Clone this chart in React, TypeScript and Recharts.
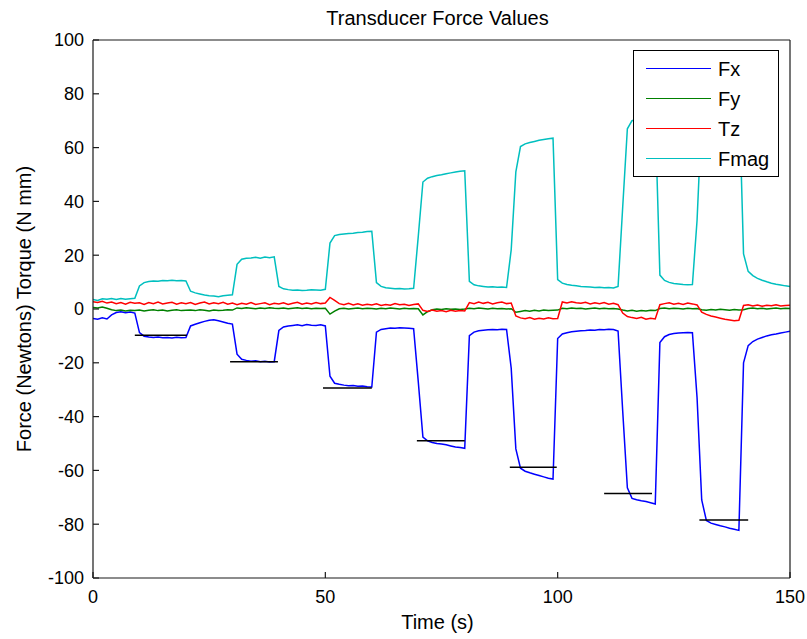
import React from 'react';
import { LineChart, Line, XAxis, YAxis, ReferenceLine, Legend, Label } from 'recharts';

const time = [
  0, 1, 2, 3, 4, 5, 6, 7, 8, 9,
  10, 11, 12, 13, 14, 15, 16, 17, 18, 19,
  20, 21, 22, 23, 24, 25, 26, 27, 28, 29,
  30, 31, 32, 33, 34, 35, 36, 37, 38, 39,
  40, 41, 42, 43, 44, 45, 46, 47, 48, 49,
  50, 51, 52, 53, 54, 55, 56, 57, 58, 59,
  60, 61, 62, 63, 64, 65, 66, 67, 68, 69,
  70, 71, 72, 73, 74, 75, 76, 77, 78, 79,
  80, 81, 82, 83, 84, 85, 86, 87, 88, 89,
  90, 91, 92, 93, 94, 95, 96, 97, 98, 99,
  100, 101, 102, 103, 104, 105, 106, 107, 108, 109,
  110, 111, 112, 113, 114, 115, 116, 117, 118, 119,
  120, 121, 122, 123, 124, 125, 126, 127, 128, 129,
  130, 131, 132, 133, 134, 135, 136, 137, 138, 139,
  140, 141, 142, 143, 144, 145, 146, 147, 148, 149,
  150,
];

const fx = [
  -3.5, -3.8, -3.3, -3.7, -2.2, -1.3, -1.0, -1.4, -1.1, -1.5,
  -8.8, -10.1, -10.4, -10.6, -10.4, -10.7, -10.6, -10.8, -10.5, -10.7,
  -10.6, -6.3, -5.7, -5.1, -4.6, -4.2, -4.0, -4.4, -4.8, -5.3,
  -5.6, -16.8, -18.7, -19.1, -19.4, -19.2, -19.6, -19.4, -19.7, -19.6,
  -8.0, -6.7, -6.3, -6.1, -5.9, -6.2, -5.8, -6.0, -6.1, -5.9,
  -6.3, -25.0, -27.6, -28.0, -28.3, -28.5, -28.4, -28.7, -28.6, -28.9,
  -29.0, -8.6, -7.6, -7.3, -7.1, -7.2, -7.0, -7.1, -7.2, -7.3,
  -27.0, -47.6, -49.0, -49.6, -50.0, -50.2, -50.5, -50.9, -51.3, -51.5,
  -51.8, -9.9, -8.6, -8.1, -7.9, -7.7, -7.6, -7.7, -7.5, -7.6,
  -22.0, -52.0, -59.2, -60.3, -60.9, -61.4, -61.9, -62.4, -62.9, -63.2,
  -11.0, -9.3, -8.8, -8.5, -8.3, -8.1, -8.0, -7.8, -7.9, -7.6,
  -7.7, -7.5, -7.6, -8.2, -38.0, -66.5, -70.4, -70.9, -71.3, -71.6,
  -72.0, -72.5, -12.5, -10.3, -9.5, -9.1, -8.9, -8.8, -8.7, -8.8,
  -33.0, -71.0, -78.6, -79.6, -80.1, -80.6, -81.0, -81.5, -81.9, -82.3,
  -20.0, -13.6, -12.1, -11.2, -10.6, -10.0, -9.6, -9.3, -8.9, -8.6,
  -8.3,
];

const fy = [
  0.6, 0.4, 0.7, 0.3, -0.3, -0.6, -0.4, -0.7, -0.5, -0.6,
  -0.4, -0.7, -0.5, -0.3, -0.6, -0.4, -0.7, -0.5, -0.3, -0.6,
  -0.5, -0.4, -0.6, -0.3, -0.5, -0.7, -0.4, -0.6, -0.5, -0.3,
  -0.4, 0.4, 0.2, 0.5, 0.3, 0.1, 0.4, 0.2, 0.5, 0.3,
  0.2, 0.4, 0.1, 0.3, 0.5, 0.2, 0.4, 0.1, 0.3, 0.2,
  0.3, -1.9, -0.8, 0.1, 0.3, 0.0, 0.2, 0.4, 0.1, 0.3,
  0.2, 0.0, 0.3, 0.1, 0.4, 0.2, 0.0, 0.3, 0.1, 0.2,
  0.1, -2.2, -1.0, -0.3, 0.0, -0.2, 0.1, -0.1, 0.0, -0.2,
  0.0, 0.3, 0.1, 0.4, 0.2, 0.0, 0.3, 0.1, 0.2, 0.0,
  0.1, -1.2, -0.9, -0.6, -0.8, -0.5, -0.7, -0.4, -0.6, -0.5,
  -0.4, 0.3, 0.1, 0.4, 0.2, 0.3, 0.0, 0.2, 0.4, 0.1,
  0.3, 0.1, 0.2, 0.0, -0.4, -0.7, -0.5, -0.8, -0.6, -0.7,
  -0.5, -0.6, 0.2, 0.4, 0.1, 0.3, 0.2, 0.0, 0.3, 0.1,
  0.2, -0.3, -0.5, -0.2, -0.4, -0.1, -0.3, -0.5, -0.2, -0.4,
  -0.3, 0.2, 0.4, 0.1, 0.3, 0.0, 0.2, 0.4, 0.1, 0.3,
  0.2,
];

const tz = [
  2.7, 2.4, 2.9, 2.2, 2.6, 2.0, 2.4, 1.8, 2.5, 2.1,
  2.3, 1.7, 2.4, 2.0, 2.6, 1.9, 2.2, 2.5, 1.8, 2.3,
  2.0, 2.4, 1.7, 2.2, 2.6, 1.9, 2.3, 2.0, 2.5, 1.8,
  2.2, 1.6, 2.1, 1.8, 2.4, 1.7, 2.0, 2.3, 1.6, 2.1,
  1.9, 2.3, 1.7, 2.1, 2.5, 1.8, 2.2, 1.9, 2.4, 2.0,
  2.2, 4.3, 3.2, 2.0, 1.6, 2.1, 1.5, 1.9, 1.4, 1.8,
  1.5, 1.9, 1.3, 1.7, 1.4, 2.0, 1.6, 1.8, 1.3, 1.7,
  1.9, -0.5, -0.9, -0.4, -0.8, -0.6, -1.0, -0.5, -0.8, -0.6,
  -0.7, 2.4, 2.0, 2.6, 2.1, 2.5, 1.9, 2.3, 2.6, 2.0,
  2.2, -2.6, -3.3, -3.6, -3.2, -3.8, -3.4, -3.7, -3.3, -3.6,
  -3.5, 2.6, 2.2, 2.7, 2.3, 2.1, 2.5, 1.9, 2.3, 2.0,
  2.4, 1.8, 2.1, 1.6, -1.5, -2.8, -3.2, -3.5, -3.1, -3.8,
  -3.4, -3.7, 1.6, 2.0, 2.3, 1.8, 2.1, 1.7, 2.2, 1.9,
  1.5, -1.2, -2.0, -2.6, -3.0, -3.4, -3.8, -4.1, -4.4, -4.2,
  1.3, 1.6, 1.1, 1.5, 1.0, 1.4, 1.2, 1.6, 1.1, 1.3,
  1.4,
];

const fmag = [
  3.5, 3.2, 3.8, 3.6, 3.9, 3.5, 3.9, 3.6, 3.8, 4.0,
  8.6, 9.8, 10.2, 10.4, 10.3, 10.6, 10.5, 10.7, 10.5, 10.6,
  10.4, 6.6, 6.0, 5.6, 5.2, 4.9, 4.8, 4.6, 4.9, 5.1,
  5.3, 16.6, 18.5, 18.9, 19.0, 19.2, 18.9, 19.3, 19.1, 19.4,
  8.4, 7.5, 7.2, 7.0, 7.1, 6.9, 7.0, 7.2, 7.1, 7.0,
  7.3, 24.5, 27.3, 27.7, 27.9, 28.1, 28.2, 28.4, 28.5, 28.8,
  28.9, 9.8, 8.4, 7.9, 7.7, 7.5, 7.6, 7.4, 7.5, 7.7,
  27.0, 47.2, 48.6, 49.2, 49.6, 49.9, 50.3, 50.6, 50.9, 51.2,
  51.4, 10.3, 9.0, 8.6, 8.4, 8.2, 8.3, 8.1, 8.2, 8.0,
  22.0, 51.0, 60.4, 61.4, 61.9, 62.3, 62.7, 63.0, 63.3, 63.5,
  10.9, 9.6, 9.1, 8.8, 8.6, 8.4, 8.3, 8.2, 8.0, 8.1,
  7.9, 8.0, 7.8, 8.4, 38.0, 67.0, 70.0, 70.5, 70.9, 71.2,
  71.5, 72.0, 12.6, 10.6, 9.9, 9.5, 9.3, 9.1, 9.0, 9.1,
  33.0, 72.0, 79.2, 80.2, 80.8, 81.3, 81.7, 82.1, 82.4, 82.7,
  20.5, 14.0, 12.4, 11.4, 10.7, 10.1, 9.6, 9.2, 8.9, 8.6,
  8.4,
];

// Expected-load reference segments (black)
const refLevels = [-9.8, -19.6, -29.4, -49.0, -58.8, -68.6, -78.4];
const refStarts = [9.0, 29.5, 49.5, 69.7, 89.7, 110.0, 130.5];
const refEnds = [20.2, 39.8, 60.0, 80.0, 99.8, 120.3, 141.0];

const seriesNames = ['Fx', 'Fy', 'Tz', 'Fmag'];
const seriesColors = ['#0000FF', '#008000', '#FF0000', '#00BFBF'];

const xTicks = [0, 50, 100, 150];
const yTicks = [-100, -80, -60, -40, -20, 0, 20, 40, 60, 80, 100];

const data = time.map((t, i) => ({ t, Fx: fx[i], Fy: fy[i], Tz: tz[i], Fmag: fmag[i] }));

const FONT = '"Liberation Sans", Arial, Helvetica, sans-serif';
const AXIS_COLOR = '#1a1a1a';

const LegendBox = () => (
  <div
    style={{
      position: 'relative',
      width: 146,
      height: 127,
      boxSizing: 'border-box',
      border: '1px solid #000',
      background: '#fff',
      fontFamily: FONT,
    }}
  >
    {seriesNames.map((name, i) => (
      <div
        key={name}
        style={{
          position: 'absolute',
          left: 0,
          top: 18.3 + 30 * i - 12,
          height: 24,
          width: '100%',
        }}
      >
        <div
          style={{
            position: 'absolute',
            left: 12,
            top: 11,
            width: 65,
            height: 0,
            borderTop: `1.5px solid ${seriesColors[i]}`,
          }}
        />
        <div
          style={{
            position: 'absolute',
            left: 84,
            top: 0,
            height: 24,
            lineHeight: '24px',
            fontSize: 20,
            color: '#000',
            whiteSpace: 'nowrap',
          }}
        >
          {name}
        </div>
      </div>
    ))}
  </div>
);

const tickStyle = { fontSize: 18, fill: '#000', fontFamily: FONT };

export default function App() {
  return (
    <div style={{ position: 'absolute', left: 0, top: 0, width: 807, height: 639, background: '#fff' }}>
      <LineChart
        width={807}
        height={639}
        data={data}
        margin={{ top: 39, right: 16, bottom: 60, left: 92 }}
      >
        <XAxis
          dataKey="t"
          type="number"
          domain={[0, 150]}
          ticks={xTicks}
          interval={0}
          height={1}
          tickSize={-6}
          tickMargin={18}
          tick={tickStyle}
          axisLine={{ stroke: AXIS_COLOR, strokeWidth: 1.2 }}
          tickLine={{ stroke: AXIS_COLOR, strokeWidth: 1.2 }}
          allowDataOverflow
        >
          <Label
            content={() => (
              <text x={437.5} y={629} textAnchor="middle" fontSize={20} fontFamily={FONT} fill="#000">
                Time (s)
              </text>
            )}
          />
        </XAxis>
        <XAxis
          xAxisId="top"
          orientation="top"
          dataKey="t"
          type="number"
          domain={[0, 150]}
          ticks={xTicks}
          interval={0}
          height={1}
          tickSize={-6}
          tick={false}
          axisLine={{ stroke: AXIS_COLOR, strokeWidth: 1.2 }}
          tickLine={{ stroke: AXIS_COLOR, strokeWidth: 1.2 }}
          allowDataOverflow
        >
          <Label
            content={() => (
              <text x={437.5} y={25} textAnchor="middle" fontSize={20} fontFamily={FONT} fill="#000">
                Transducer Force Values
              </text>
            )}
          />
        </XAxis>
        <YAxis
          type="number"
          domain={[-100, 100]}
          ticks={yTicks}
          interval={0}
          width={1}
          tickSize={-6}
          tickMargin={15}
          tick={tickStyle}
          axisLine={{ stroke: AXIS_COLOR, strokeWidth: 1.2 }}
          tickLine={{ stroke: AXIS_COLOR, strokeWidth: 1.2 }}
          allowDataOverflow
        >
          <Label
            content={() => (
              <text
                x={24}
                y={309}
                transform="rotate(-90, 24, 309)"
                textAnchor="middle"
                dominantBaseline="central"
                fontSize={20}
                fontFamily={FONT}
                fill="#000"
              >
                Force (Newtons) Torque (N mm)
              </text>
            )}
          />
        </YAxis>
        <YAxis
          yAxisId="r"
          orientation="right"
          type="number"
          domain={[-100, 100]}
          ticks={yTicks}
          interval={0}
          width={1}
          tickSize={-6}
          tick={false}
          axisLine={{ stroke: AXIS_COLOR, strokeWidth: 1.2 }}
          tickLine={{ stroke: AXIS_COLOR, strokeWidth: 1.2 }}
          allowDataOverflow
        />
        {seriesNames.map((name, i) => (
          <Line
            key={name}
            dataKey={name}
            name={name}
            type="linear"
            stroke={seriesColors[i]}
            strokeWidth={1.5}
            dot={false}
            activeDot={false}
            isAnimationActive={false}
          />
        ))}
        {refLevels.map((v, i) => (
          <ReferenceLine
            key={`ref-${i}`}
            segment={[
              { x: refStarts[i], y: v },
              { x: refEnds[i], y: v },
            ]}
            stroke="#000"
            strokeWidth={1.5}
          />
        ))}
        <Legend
          layout="vertical"
          align="center"
          verticalAlign="middle"
          wrapperStyle={{ left: 633, top: 50, width: 146, height: 127, margin: 0 }}
          content={() => <LegendBox />}
        />
      </LineChart>
    </div>
  );
}
